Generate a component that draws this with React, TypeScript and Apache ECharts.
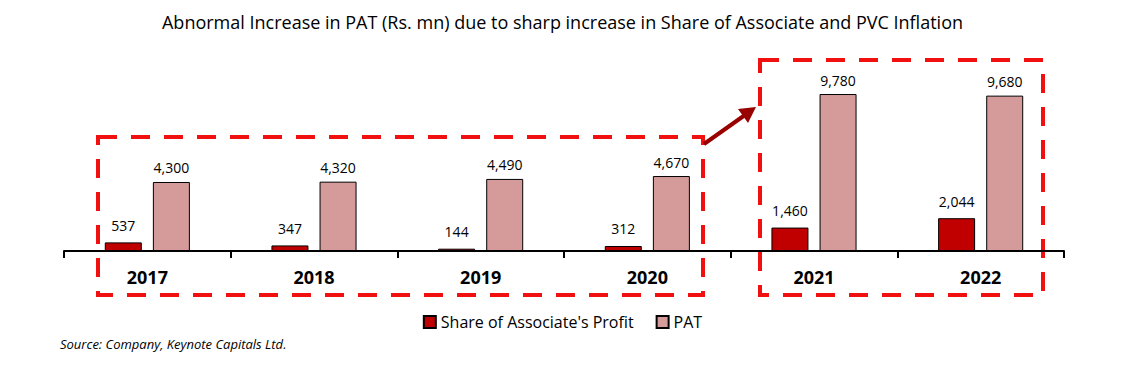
import React, { useEffect, useRef } from "react";
import * as echarts from "echarts";

const categories = ["2017", "2018", "2019", "2020", "2021", "2022"];
const shareOfAssociate = [537, 347, 144, 312, 1460, 2044];
const pat = [4300, 4320, 4490, 4670, 9780, 9680];
const seriesNames = ["Share of Associate's Profit", "PAT"];
const titleText =
  "Abnormal Increase in PAT (Rs. mn) due to sharp increase in Share of Associate and PVC Inflation";
const sourceText = "Source: Company, Keynote Capitals Ltd.";

const FONT = "'Open Sans', 'Noto Sans', sans-serif";

export default function App() {
  const ref = useRef<HTMLDivElement>(null);
  useEffect(() => {
    if (!ref.current) return;
    const chart = echarts.init(ref.current, undefined, { renderer: "svg" });
    const fmt = (p: any) => Number(p.value).toLocaleString("en-US");
    const dashStyle = {
      stroke: "#f01010",
      lineWidth: 4,
      lineDash: [19, 14],
      fill: "none",
    };
    chart.setOption({
      animation: false,
      backgroundColor: "#ffffff",
      title: {
        text: titleText,
        left: "center",
        top: 8,
        textStyle: { fontFamily: FONT, fontSize: 18, fontWeight: "normal", color: "#000" },
      },
      legend: {
        data: seriesNames,
        bottom: 40,
        left: "center",
        itemWidth: 12,
        itemHeight: 12,
        itemGap: 22,
        icon: "rect",
        textStyle: { fontFamily: FONT, fontSize: 16, color: "#000" },
      },
      grid: { left: 64, right: 61, top: 58.4, bottom: 124, containLabel: false },
      xAxis: {
        type: "category",
        data: categories,
        axisLine: { lineStyle: { color: "#000", width: 2 } },
        axisTick: { show: true, length: 7, lineStyle: { color: "#000", width: 2 } },
        axisLabel: {
          margin: 17,
          fontFamily: FONT,
          fontSize: 18,
          fontWeight: "bold",
          color: "#000",
        },
      },
      yAxis: {
        type: "value",
        min: 0,
        max: 12000,
        show: false,
        splitLine: { show: false },
      },
      series: [
        {
          name: seriesNames[0],
          type: "bar",
          data: shareOfAssociate,
          barWidth: 37,
          barGap: "30%",
          itemStyle: { color: "#c00000", borderColor: "#000", borderWidth: 1 },
          label: {
            show: true,
            position: "top",
            distance: 10,
            formatter: fmt,
            fontFamily: FONT,
            fontSize: 14,
            color: "#000",
          },
        },
        {
          name: seriesNames[1],
          type: "bar",
          data: pat,
          barWidth: 37,
          itemStyle: { color: "#d59b9b", borderColor: "#000", borderWidth: 1 },
          label: {
            show: true,
            position: "top",
            distance: 7,
            formatter: fmt,
            fontFamily: FONT,
            fontSize: 14,
            color: "#000",
          },
        },
      ],
      graphic: [
        {
          type: "rect",
          shape: { x: 98, y: 137, width: 605, height: 158 },
          style: dashStyle,
          silent: true,
        },
        {
          type: "rect",
          shape: { x: 760, y: 60, width: 283, height: 235 },
          style: dashStyle,
          silent: true,
        },
        {
          type: "line",
          shape: { x1: 704, y1: 144, x2: 745, y2: 115 },
          style: { stroke: "#990000", lineWidth: 4 },
          silent: true,
        },
        {
          type: "polygon",
          shape: { points: [[756, 107], [738, 109], [748, 123]] },
          style: { fill: "#990000" },
          silent: true,
        },
        {
          type: "text",
          left: 60,
          top: 337,
          style: {
            text: sourceText,
            font: `italic 13px ${FONT}`,
            fill: "#000",
          },
        },
      ],
    });
    return () => chart.dispose();
  }, []);
  return <div ref={ref} style={{ width: 1125, height: 375, margin: -8 }} />;
}
